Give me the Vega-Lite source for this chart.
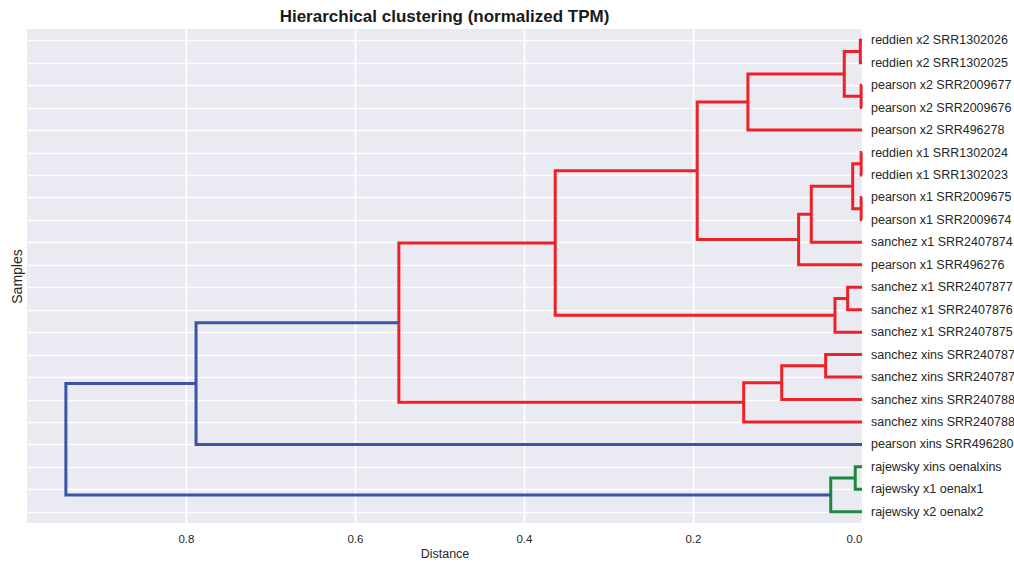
{
  "$schema": "https://vega.github.io/schema/vega-lite/v6.json",
  "autosize": "none",
  "width": 835,
  "height": 494,
  "padding": {"left": 27, "top": 29, "right": 152, "bottom": 42},
  "background": "white",
  "config": {
    "font": "Liberation Sans",
    "view": {"fill": "#EAEAF2", "stroke": null},
    "axis": {"gridColor": "white", "gridWidth": 1.6, "gridOpacity": 1, "domain": false, "ticks": false, "labelColor": "#262626", "titleColor": "#262626", "labelFont": "Liberation Sans", "titleFont": "Liberation Sans", "labelFontSize": 11.5, "titleFontSize": 12.5, "titleFontWeight": "normal"}
  },
  "title": {"text": "Hierarchical clustering (normalized TPM)", "fontSize": 17, "fontWeight": "bold", "color": "#1a1a1a", "font": "Liberation Sans", "anchor": "middle", "offset": 3},
  "datasets": {
    "links": [
      {"link": 1, "s": 0, "d": 0, "pos": 0, "grp": "r"}, {"link": 1, "s": 1, "d": 0.002, "pos": 0, "grp": "r"}, {"link": 1, "s": 2, "d": 0.002, "pos": 1, "grp": "r"}, {"link": 1, "s": 3, "d": 0, "pos": 1, "grp": "r"},
      {"link": 2, "s": 0, "d": 0, "pos": 2, "grp": "r"}, {"link": 2, "s": 1, "d": 0.001, "pos": 2, "grp": "r"}, {"link": 2, "s": 2, "d": 0.001, "pos": 3, "grp": "r"}, {"link": 2, "s": 3, "d": 0, "pos": 3, "grp": "r"},
      {"link": 3, "s": 0, "d": 0.002, "pos": 0.5, "grp": "r"}, {"link": 3, "s": 1, "d": 0.021, "pos": 0.5, "grp": "r"}, {"link": 3, "s": 2, "d": 0.021, "pos": 2.5, "grp": "r"}, {"link": 3, "s": 3, "d": 0.001, "pos": 2.5, "grp": "r"},
      {"link": 4, "s": 0, "d": 0.021, "pos": 1.5, "grp": "r"}, {"link": 4, "s": 1, "d": 0.135, "pos": 1.5, "grp": "r"}, {"link": 4, "s": 2, "d": 0.135, "pos": 4, "grp": "r"}, {"link": 4, "s": 3, "d": 0, "pos": 4, "grp": "r"},
      {"link": 5, "s": 0, "d": 0, "pos": 5, "grp": "r"}, {"link": 5, "s": 1, "d": 0.001, "pos": 5, "grp": "r"}, {"link": 5, "s": 2, "d": 0.001, "pos": 6, "grp": "r"}, {"link": 5, "s": 3, "d": 0, "pos": 6, "grp": "r"},
      {"link": 6, "s": 0, "d": 0, "pos": 7, "grp": "r"}, {"link": 6, "s": 1, "d": 0.001, "pos": 7, "grp": "r"}, {"link": 6, "s": 2, "d": 0.001, "pos": 8, "grp": "r"}, {"link": 6, "s": 3, "d": 0, "pos": 8, "grp": "r"},
      {"link": 7, "s": 0, "d": 0.001, "pos": 5.5, "grp": "r"}, {"link": 7, "s": 1, "d": 0.011, "pos": 5.5, "grp": "r"}, {"link": 7, "s": 2, "d": 0.011, "pos": 7.5, "grp": "r"}, {"link": 7, "s": 3, "d": 0.001, "pos": 7.5, "grp": "r"},
      {"link": 8, "s": 0, "d": 0.011, "pos": 6.5, "grp": "r"}, {"link": 8, "s": 1, "d": 0.06, "pos": 6.5, "grp": "r"}, {"link": 8, "s": 2, "d": 0.06, "pos": 9, "grp": "r"}, {"link": 8, "s": 3, "d": 0, "pos": 9, "grp": "r"},
      {"link": 9, "s": 0, "d": 0.06, "pos": 7.75, "grp": "r"}, {"link": 9, "s": 1, "d": 0.075, "pos": 7.75, "grp": "r"}, {"link": 9, "s": 2, "d": 0.075, "pos": 10, "grp": "r"}, {"link": 9, "s": 3, "d": 0, "pos": 10, "grp": "r"},
      {"link": 10, "s": 0, "d": 0.135, "pos": 2.75, "grp": "r"}, {"link": 10, "s": 1, "d": 0.195, "pos": 2.75, "grp": "r"}, {"link": 10, "s": 2, "d": 0.195, "pos": 8.875, "grp": "r"}, {"link": 10, "s": 3, "d": 0.075, "pos": 8.875, "grp": "r"},
      {"link": 11, "s": 0, "d": 0, "pos": 11, "grp": "r"}, {"link": 11, "s": 1, "d": 0.017, "pos": 11, "grp": "r"}, {"link": 11, "s": 2, "d": 0.017, "pos": 12, "grp": "r"}, {"link": 11, "s": 3, "d": 0, "pos": 12, "grp": "r"},
      {"link": 12, "s": 0, "d": 0.017, "pos": 11.5, "grp": "r"}, {"link": 12, "s": 1, "d": 0.032, "pos": 11.5, "grp": "r"}, {"link": 12, "s": 2, "d": 0.032, "pos": 13, "grp": "r"}, {"link": 12, "s": 3, "d": 0, "pos": 13, "grp": "r"},
      {"link": 13, "s": 0, "d": 0.195, "pos": 5.8125, "grp": "r"}, {"link": 13, "s": 1, "d": 0.363, "pos": 5.8125, "grp": "r"}, {"link": 13, "s": 2, "d": 0.363, "pos": 12.25, "grp": "r"}, {"link": 13, "s": 3, "d": 0.032, "pos": 12.25, "grp": "r"},
      {"link": 14, "s": 0, "d": 0, "pos": 14, "grp": "r"}, {"link": 14, "s": 1, "d": 0.043, "pos": 14, "grp": "r"}, {"link": 14, "s": 2, "d": 0.043, "pos": 15, "grp": "r"}, {"link": 14, "s": 3, "d": 0, "pos": 15, "grp": "r"},
      {"link": 15, "s": 0, "d": 0.043, "pos": 14.5, "grp": "r"}, {"link": 15, "s": 1, "d": 0.095, "pos": 14.5, "grp": "r"}, {"link": 15, "s": 2, "d": 0.095, "pos": 16, "grp": "r"}, {"link": 15, "s": 3, "d": 0, "pos": 16, "grp": "r"},
      {"link": 16, "s": 0, "d": 0.095, "pos": 15.25, "grp": "r"}, {"link": 16, "s": 1, "d": 0.14, "pos": 15.25, "grp": "r"}, {"link": 16, "s": 2, "d": 0.14, "pos": 17, "grp": "r"}, {"link": 16, "s": 3, "d": 0, "pos": 17, "grp": "r"},
      {"link": 17, "s": 0, "d": 0.363, "pos": 9.03125, "grp": "r"}, {"link": 17, "s": 1, "d": 0.548, "pos": 9.03125, "grp": "r"}, {"link": 17, "s": 2, "d": 0.548, "pos": 16.125, "grp": "r"}, {"link": 17, "s": 3, "d": 0.14, "pos": 16.125, "grp": "r"},
      {"link": 18, "s": 0, "d": 0.548, "pos": 12.578, "grp": "b"}, {"link": 18, "s": 1, "d": 0.788, "pos": 12.578, "grp": "b"}, {"link": 18, "s": 2, "d": 0.788, "pos": 18, "grp": "b"}, {"link": 18, "s": 3, "d": 0, "pos": 18, "grp": "b"},
      {"link": 19, "s": 0, "d": 0, "pos": 19, "grp": "g"}, {"link": 19, "s": 1, "d": 0.008, "pos": 19, "grp": "g"}, {"link": 19, "s": 2, "d": 0.008, "pos": 20, "grp": "g"}, {"link": 19, "s": 3, "d": 0, "pos": 20, "grp": "g"},
      {"link": 20, "s": 0, "d": 0.008, "pos": 19.5, "grp": "g"}, {"link": 20, "s": 1, "d": 0.037, "pos": 19.5, "grp": "g"}, {"link": 20, "s": 2, "d": 0.037, "pos": 21, "grp": "g"}, {"link": 20, "s": 3, "d": 0, "pos": 21, "grp": "g"},
      {"link": 21, "s": 0, "d": 0.788, "pos": 15.289, "grp": "b"}, {"link": 21, "s": 1, "d": 0.942, "pos": 15.289, "grp": "b"}, {"link": 21, "s": 2, "d": 0.942, "pos": 20.25, "grp": "b"}, {"link": 21, "s": 3, "d": 0.037, "pos": 20.25, "grp": "b"}
    ],
    "leaves": [
      {"name": "reddien x2 SRR1302026", "pos": 0, "d": 0},
      {"name": "reddien x2 SRR1302025", "pos": 1, "d": 0},
      {"name": "pearson x2 SRR2009677", "pos": 2, "d": 0},
      {"name": "pearson x2 SRR2009676", "pos": 3, "d": 0},
      {"name": "pearson x2 SRR496278", "pos": 4, "d": 0},
      {"name": "reddien x1 SRR1302024", "pos": 5, "d": 0},
      {"name": "reddien x1 SRR1302023", "pos": 6, "d": 0},
      {"name": "pearson x1 SRR2009675", "pos": 7, "d": 0},
      {"name": "pearson x1 SRR2009674", "pos": 8, "d": 0},
      {"name": "sanchez x1 SRR2407874", "pos": 9, "d": 0},
      {"name": "pearson x1 SRR496276", "pos": 10, "d": 0},
      {"name": "sanchez x1 SRR2407877", "pos": 11, "d": 0},
      {"name": "sanchez x1 SRR2407876", "pos": 12, "d": 0},
      {"name": "sanchez x1 SRR2407875", "pos": 13, "d": 0},
      {"name": "sanchez xins SRR240787", "pos": 14, "d": 0},
      {"name": "sanchez xins SRR240787", "pos": 15, "d": 0},
      {"name": "sanchez xins SRR240788", "pos": 16, "d": 0},
      {"name": "sanchez xins SRR240788", "pos": 17, "d": 0},
      {"name": "pearson xins SRR496280", "pos": 18, "d": 0},
      {"name": "rajewsky xins oenalxins", "pos": 19, "d": 0},
      {"name": "rajewsky x1 oenalx1", "pos": 20, "d": 0},
      {"name": "rajewsky x2 oenalx2", "pos": 21, "d": 0}
    ]
  },
  "encoding": {
    "x": {"field": "d", "type": "quantitative", "scale": {"domain": [0, 0.988], "reverse": true, "nice": false, "zero": false}, "axis": {"title": "Distance", "values": [0, 0.2, 0.4, 0.6, 0.8], "format": ".1f", "labelPadding": 10, "titlePadding": 3}},
    "y": {"field": "pos", "type": "quantitative", "scale": {"domain": [-0.5, 21.5], "reverse": true, "nice": false, "zero": false}, "axis": {"title": "Samples", "titleFontSize": 14, "labels": false, "values": [0, 1, 2, 3, 4, 5, 6, 7, 8, 9, 10, 11, 12, 13, 14, 15, 16, 17, 18, 19, 20, 21], "titlePadding": 3}}
  },
  "layer": [
    {
      "data": {"name": "links"},
      "mark": {"type": "line", "strokeWidth": 3, "strokeJoin": "miter", "clip": false},
      "encoding": {
        "detail": {"field": "link", "type": "nominal"},
        "order": {"field": "s", "type": "quantitative"},
        "color": {"field": "grp", "type": "nominal", "scale": {"domain": ["r", "b", "g"], "range": ["#EE2128", "#3B54A4", "#1C8A3C"]}, "legend": null}
      }
    },
    {
      "data": {"name": "leaves"},
      "mark": {"type": "text", "align": "left", "baseline": "middle", "dx": 9, "dy": 0, "fontSize": 12.5, "color": "#262626", "font": "Liberation Sans"},
      "encoding": {
        "text": {"field": "name", "type": "nominal"}
      }
    }
  ]
}
